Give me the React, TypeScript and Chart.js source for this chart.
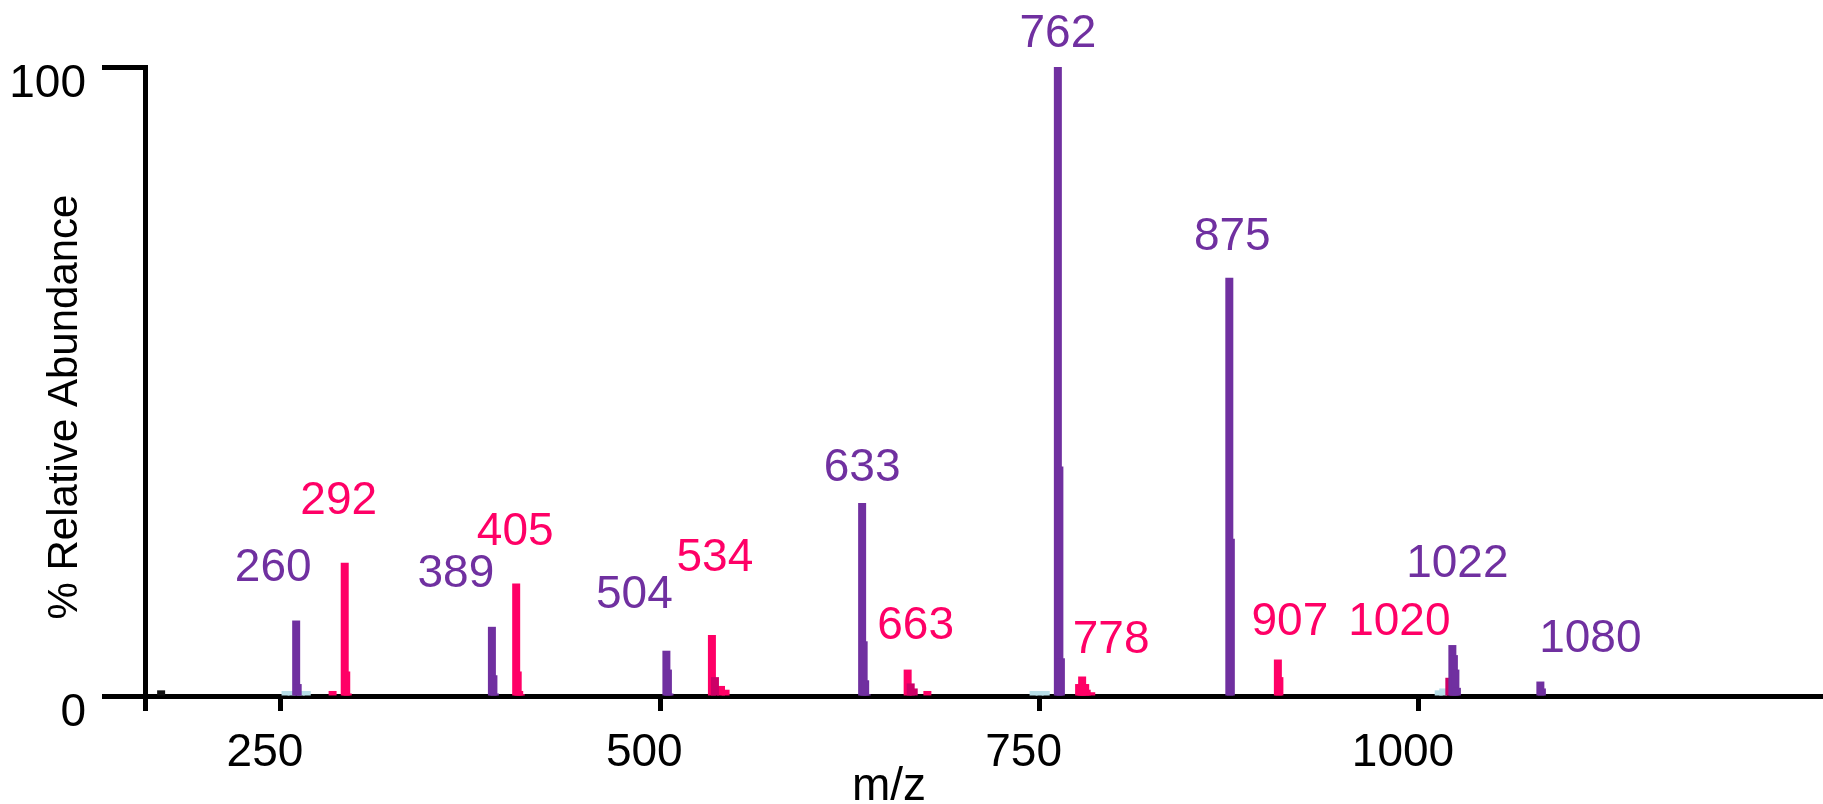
import { useEffect, useRef } from "react";
import { Chart, registerables } from "chart.js";

Chart.register(...registerables);

const FONT = '"Liberation Sans", Arial, Helvetica, sans-serif';
const PURPLE = "#7030A0";
const PINK = "#FF0066";
const DEEP_PINK = "#CC0066";
const LIGHT_BLUE = "#B7DEE8";
const BASELINE_BLACK = "#111111";

// Trace 1 (purple): m/z and % relative abundance
const purpleMz = [260, 261, 389, 390, 391, 504, 505, 506, 633, 634, 635, 636, 762, 763, 764, 875, 876, 1022, 1023, 1024, 1025, 1080, 1081];
const purpleAbundance = [12.0, 1.9, 11.0, 3.3, 0.4, 7.2, 4.2, 0.4, 30.7, 8.7, 2.5, 0.3, 100, 36.5, 6.0, 66.5, 25.0, 8.1, 6.5, 4.2, 1.3, 2.3, 1.2];

// Trace 2 (pink)
const pinkMz = [284, 292, 293, 294, 405, 406, 407, 408, 534, 540, 543, 663, 676, 776, 777, 778, 779, 780, 781, 784, 907, 908];
const pinkAbundance = [0.8, 21.2, 3.9, 0.4, 17.9, 3.9, 0.8, 0.3, 9.7, 1.6, 1.0, 4.2, 0.8, 1.9, 1.9, 3.1, 1.9, 1.9, 1.0, 0.6, 5.8, 3.0];

// Overlapping pink signal (darker)
const deepPinkMz = [536, 665, 667, 1020];
const deepPinkAbundance = [3.0, 2.0, 1.2, 2.9];

// Low-level background signals
const lightBlueMz = [253, 257, 263, 267, 746, 750, 754, 1013, 1016];
const lightBlueAbundance = [0.8, 0.8, 0.8, 0.8, 0.8, 0.8, 0.8, 0.9, 1.2];
const baselineMz = [171];
const baselineAbundance = [0.9];

// Annotated peaks
const purpleLabels = [260, 389, 504, 633, 762, 875, 1022, 1080];
const pinkLabels = [292, 405, 534, 663, 778, 907, 1020];

// Axes
const xTickValues = [250, 500, 750, 1000];
const yTickValues = [0, 100];
const X_MIN = 160.37;
const X_MAX = 1266.27;

// Label placement: horizontal shift and gap above the bar top, in px
const labelPlacement: Record<number, [number, number]> = {
  260: [-23, 39.5],
  292: [-6, 49],
  389: [-36, 40],
  405: [-1, 38],
  504: [-32, 43],
  534: [3, 64],
  633: [0, 22],
  663: [8, 31],
  762: [0, 20],
  778: [29, 24],
  875: [3, 28],
  907: [12, 24.5],
  1020: [-50, 43],
  1022: [5, 68],
  1080: [50, 30],
};

const series: Array<[number[], number[]]> = [
  [purpleMz, purpleAbundance],
  [pinkMz, pinkAbundance],
  [deepPinkMz, deepPinkAbundance],
];

function abundanceAt(mz: number, color: string): number {
  const order = color === PURPLE ? [0, 1, 2] : [1, 2, 0];
  for (const k of order) {
    const [m, a] = series[k];
    const i = m.indexOf(mz);
    if (i >= 0) return a[i];
  }
  return 0;
}

const toPoints = (mz: number[], ab: number[]) => mz.map((m, i) => ({ x: m, y: ab[i] }));

const annotationPlugin = {
  id: "spectrumAnnotations",
  afterDatasetsDraw(chart: any) {
    const { ctx, scales } = chart;
    const xs = scales.x;
    const ys = scales.y;
    ctx.save();
    ctx.font = `46px ${FONT}`;
    ctx.textAlign = "center";
    ctx.textBaseline = "alphabetic";
    const draw = (list: number[], color: string) => {
      ctx.fillStyle = color;
      list.forEach((mz) => {
        const [dx, gap] = labelPlacement[mz];
        const px = xs.getPixelForValue(mz) + dx;
        const py = ys.getPixelForValue(abundanceAt(mz, color)) - gap;
        ctx.fillText(String(mz), px, py);
      });
    };
    draw(purpleLabels, PURPLE);
    draw(pinkLabels, PINK);

    // axis titles
    ctx.fillStyle = "#000";
    ctx.fillText("m/z", 889, 800);
    ctx.translate(76.5, 407);
    ctx.rotate(-Math.PI / 2);
    ctx.font = `42px ${FONT}`;
    ctx.fillText("% Relative Abundance", 0, 0);
    ctx.restore();
  },
};

export default function App() {
  const canvasRef = useRef<HTMLCanvasElement | null>(null);

  useEffect(() => {
    const canvas = canvasRef.current;
    if (!canvas) return;
    const barCommon = {
      barThickness: 8,
      grouped: false,
      borderWidth: 0,
      inflateAmount: 0,
    };
    const chart = new Chart(canvas, {
      type: "bar",
      data: {
        datasets: [
          { ...barCommon, label: "trace 1", data: toPoints(purpleMz, purpleAbundance), backgroundColor: PURPLE },
          { ...barCommon, label: "overlap", data: toPoints(deepPinkMz, deepPinkAbundance), backgroundColor: DEEP_PINK },
          { ...barCommon, label: "trace 2", data: toPoints(pinkMz, pinkAbundance), backgroundColor: PINK },
          { ...barCommon, label: "background", data: toPoints(lightBlueMz, lightBlueAbundance), backgroundColor: LIGHT_BLUE },
          { ...barCommon, label: "baseline", data: toPoints(baselineMz, baselineAbundance), backgroundColor: BASELINE_BLACK },
        ] as any,
      },
      options: {
        responsive: false,
        animation: false,
        devicePixelRatio: 1,
        layout: { padding: { top: 67, right: 0, bottom: 0, left: 0 } },
        plugins: {
          legend: { display: false },
          tooltip: { enabled: false },
          title: { display: false },
        },
        scales: {
          x: {
            type: "linear",
            position: "bottom",
            min: X_MIN,
            max: X_MAX,
            offset: false,
            z: 1,
            afterBuildTicks: (axis: any) => {
              axis.ticks = [{ value: X_MIN }, ...xTickValues.map((v) => ({ value: v }))];
            },
            afterFit: (axis: any) => {
              axis.height = 108;
            },
            ticks: {
              color: "#000",
              font: { family: FONT, size: 46 },
              padding: 15,
              labelOffset: -16,
              maxRotation: 0,
              autoSkip: false,
              callback: (value: any) => (xTickValues.includes(Number(value)) ? String(value) : ""),
            },
            grid: {
              display: true,
              offset: false,
              drawOnChartArea: false,
              drawTicks: true,
              tickLength: 15,
              tickWidth: 5,
              tickColor: "#000",
            },
            border: { display: true, width: 5, color: "#000" },
          },
          y: {
            type: "linear",
            position: "left",
            min: 0,
            max: 100,
            z: 1,
            afterBuildTicks: (axis: any) => {
              axis.ticks = yTickValues.map((v) => ({ value: v }));
            },
            afterFit: (axis: any) => {
              axis.width = 145;
            },
            ticks: {
              color: "#000",
              font: { family: FONT, size: 46 },
              padding: 16,
              labelOffset: 17,
              autoSkip: false,
            },
            grid: {
              display: true,
              drawOnChartArea: false,
              drawTicks: true,
              tickLength: 43,
              tickWidth: 5,
              tickColor: "#000",
            },
            border: { display: true, width: 5, color: "#000" },
          },
        },
      },
      plugins: [annotationPlugin],
    });
    return () => chart.destroy();
  }, []);

  return (
    <div style={{ position: "fixed", left: 0, top: 0, width: 1823, height: 804, background: "#fff" }}>
      <canvas ref={canvasRef} width={1823} height={804} style={{ display: "block", width: 1823, height: 804 }} />
    </div>
  );
}
